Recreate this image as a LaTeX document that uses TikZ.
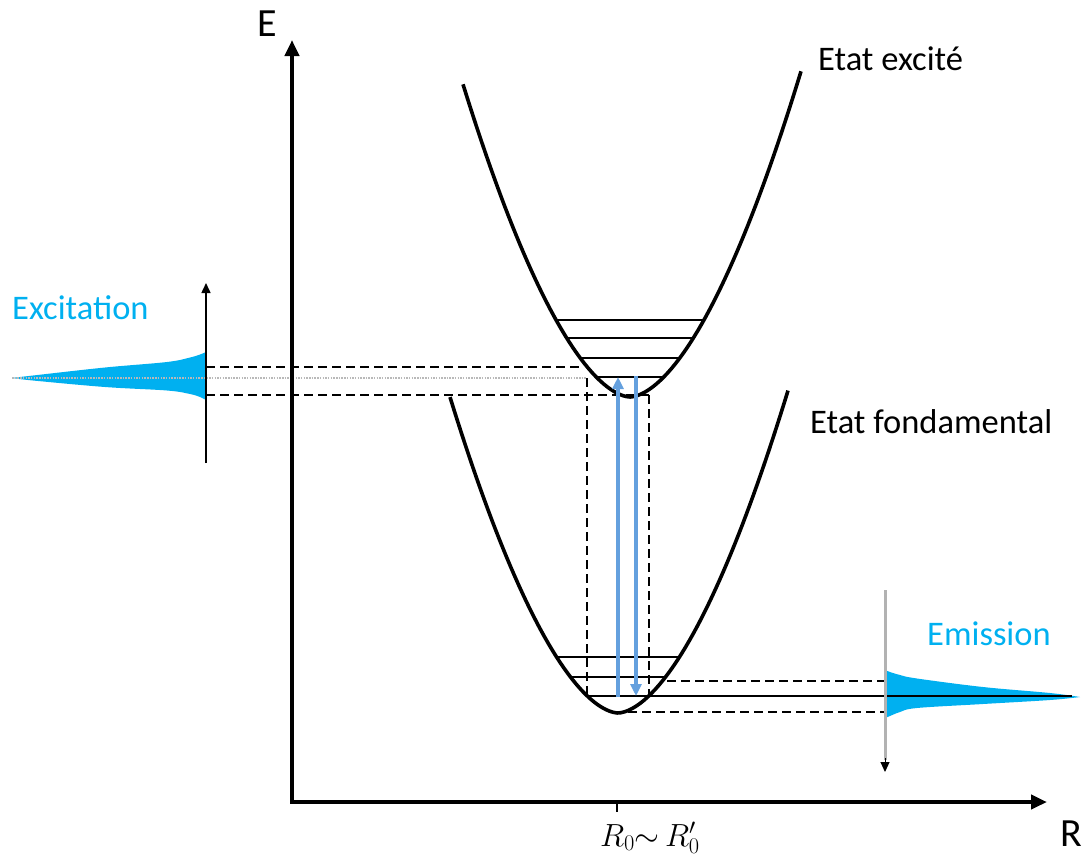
\RequirePackage{fix-cm}
\documentclass[tikz,border=0pt]{standalone}
\usepackage{fontspec}
\setmainfont{Carlito}
\usetikzlibrary{arrows.meta}
\definecolor{cyanc}{RGB}{0,176,240}
\definecolor{arrowblue}{RGB}{100,160,222}
\begin{document}
\begin{tikzpicture}[x=1pt,y=-1pt,
  axisline/.style={line width=4pt,-{Triangle[length=16pt,width=14pt]}},
  curve/.style={line width=3.6pt,line join=round},
  level/.style={line width=1.5pt},
  dashln/.style={line width=1.6pt,dash pattern=on 9pt off 5pt},
  dotln/.style={line width=2pt,gray!55,dash pattern=on 1.5pt off 1.2pt},
  transup/.style={line width=4pt,arrowblue,-{Triangle[length=12pt,width=11pt]}},
  lbl/.style={inner sep=0pt,anchor=base west,font=\fontsize{34.5}{40}\selectfont},
  axlbl/.style={inner sep=0pt,anchor=base west,font=\fontsize{40}{48}\selectfont}
]
\useasboundingbox (0,0) rectangle (1083,857);
% coordinates
\coordinate (O) at (292,802);
\coordinate (Etop) at (292,40);
\coordinate (Rend) at (1047,802);
\coordinate (exb) at (206,463);
\coordinate (ext) at (206,283);
\coordinate (emt) at (885,590);
\coordinate (emb) at (885,772);

% excitation profile
\fill[cyanc] plot[smooth,tension=0.6] coordinates {(206,352) (200,354.5) (190,357.5) (167,362) (105,367.5) (33,375.5) (12,378)}
  -- plot[smooth,tension=0.6] coordinates {(12,378) (33,380.5) (105,387) (167,390.5) (190,394) (200,397) (206,400)} -- cycle;
% emission profile
\fill[cyanc] plot[smooth,tension=0.6] coordinates {(885,670) (890,672) (900,675) (917,678.5) (983,687) (1050,693) (1080,697)}
  -- plot[smooth,tension=0.6] coordinates {(1080,697) (1050,700) (983,704) (917,708) (900,712) (890,716) (885,718)} -- cycle;

% dotted gray line
\draw[dotln] (12,378) -- (587,378);
% dashed guides
\draw[dashln] (206,367) -- (583,367);
\draw[dashln] (206,395) -- (649,395);
\draw[dashln] (587,378) -- (587,696);
\draw[dashln] (649,395) -- (649,696);
\draw[dashln] (667,681) -- (885,681);
\draw[dashln] (628,712) -- (885,712);

% excited state curve
\draw[curve] plot[domain=-167:171,samples=90] ({630+\x},{397-0.047*abs(\x)^1.72});
\foreach \y/\h in {320/74,338/63,358/50,377/34}{
  \draw[level] ({630-\h},\y) -- ({630+\h},\y);
}
% ground state curve
\draw[curve] plot[domain=-168:170,samples=90] ({618+\x},{713-0.047*abs(\x)^1.72});
\foreach \y/\h in {657/61,677/47.5}{
  \draw[level] ({618-\h},\y) -- ({618+\h},\y);
}
\draw[level] (587,696) -- (1072,696);

% transitions
\draw[transup] (618,697) -- (618,377);
\draw[transup] (636,376) -- (636,696);

% small axes
\draw[line width=1.5pt,-{Triangle[length=10pt,width=9pt]}] (exb) -- (ext);
\draw[line width=3pt,gray!60] (emt) -- (885,760);
\draw[line width=1pt,-{Triangle[length=10pt,width=9pt]}] (885,758) -- (emb);

% main axes
\draw[axisline] ([yshift=2pt]O) -- (Etop);
\draw[axisline] ([xshift=-2pt]O) -- (Rend);
\draw[line width=1.5pt] (617,802) -- (617,812);

% labels
\node[axlbl] (Elab) at (257,36) {E};
\node[axlbl,anchor=base east] (Rlab) at (1082,846) {R};
\node[inner sep=0pt,anchor=base west,font=\fontsize{32}{40}\selectfont] (R0) at (600,846) {$R_0{\sim}\,R'_0$};
\node[lbl] (etex) at (818,70) {Etat excité};
\node[lbl] (etfo) at (810,433) {Etat fondamental};
\node[lbl,text=cyanc] (excl) at (12,319) {Excitation};
\node[lbl,text=cyanc] (emil) at (927,645) {Emission};
\end{tikzpicture}
\end{document}
